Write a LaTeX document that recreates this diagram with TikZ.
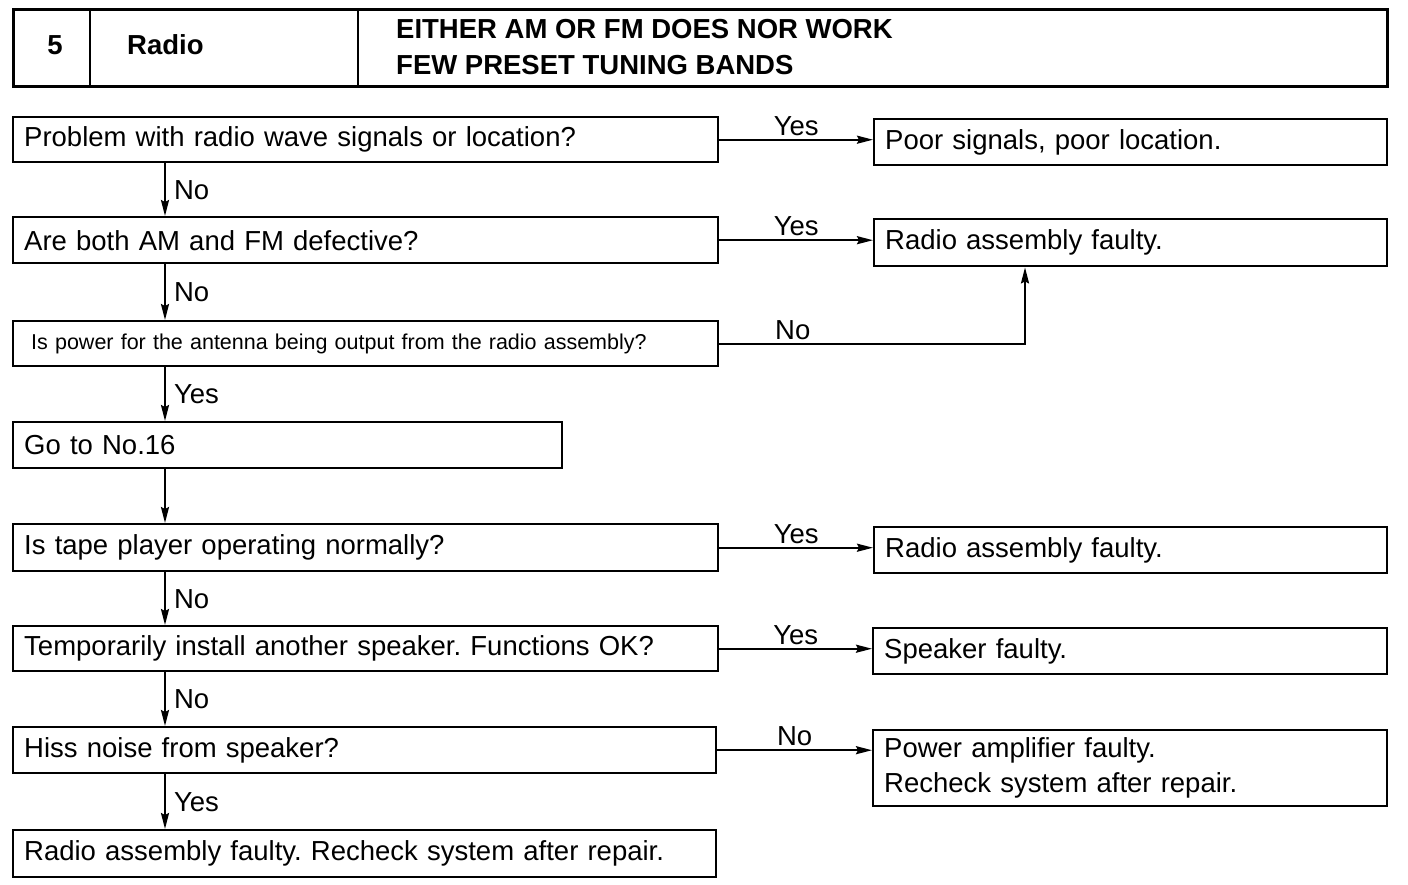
\documentclass[tikz,border=0pt]{standalone}
\usepackage{fontspec}
\setmainfont{Liberation Sans}
\usetikzlibrary{arrows.meta}
\begin{document}
\frenchspacing
\begin{tikzpicture}[x=1pt,y=-1pt,
  box/.style={draw, line width=2.4pt, anchor=north west, inner xsep=11pt, inner ysep=0pt, align=left, font=\fontsize{27.5}{31}\selectfont},
  conn/.style={line width=2pt, -{Stealth[length=16pt,width=8pt,inset=2pt]}},
  lbl/.style={font=\fontsize{27.5}{30}\selectfont, inner sep=2pt},
  vlbl/.style={lbl, right, xshift=6pt},
  hlbl/.style={lbl, above, yshift=1pt},
  hdr/.style={font=\bfseries\fontsize{27.5}{36}\selectfont, inner sep=0pt}]
\useasboundingbox (0,0) rectangle (1408,884);
% header
\node[draw, line width=3pt, anchor=north west, minimum width=1374pt, minimum height=77pt, inner sep=0pt] (hd) at (12,8) {};
\draw[line width=2pt] (90,8) -- (90,85);
\draw[line width=2pt] (358,8) -- (358,85);
\node[hdr] (hn) at (55,45) {5};
\node[hdr, anchor=west] (ht) at (127,45) {Radio};
\node[hdr, anchor=west, align=left] (hx) at (396,47) {EITHER AM OR FM DOES NOR WORK\\FEW PRESET TUNING BANDS};
% left boxes
\node[box, text width=683pt, minimum height=45pt] (b1) at (12,116) {Problem with radio wave signals or location?};
\node[box, text width=683pt, minimum height=46pt] (b2) at (12,216) {Are both AM and FM defective?};
\node[box, text width=683pt, minimum height=45pt, inner xsep=18pt, text width=669pt, font=\fontsize{21.5}{24}\selectfont] (b3) at (12,320) {\raisebox{-3pt}{Is power for the antenna being output from the radio assembly?}};
\node[box, text width=527pt, minimum height=46pt] (b4) at (12,421) {Go to No.16};
\node[box, text width=683pt, minimum height=47pt] (b5) at (12,523) {Is tape player operating normally?};
\node[box, text width=683pt, minimum height=45pt] (b6) at (12,625) {Temporarily install another speaker. Functions OK?};
\node[box, text width=681pt, minimum height=46pt] (b7) at (12,726) {Hiss noise from speaker?};
\node[box, text width=681pt, minimum height=47pt] (b8) at (12,829) {Radio assembly faulty. Recheck system after repair.};
% right boxes
\node[box, text width=491pt, minimum height=46pt] (r1) at (873,118) {Poor signals, poor location.};
\node[box, text width=491pt, minimum height=47pt] (r2) at (873,218) {Radio assembly faulty.};
\node[box, text width=491pt, minimum height=46pt] (r5) at (873,526) {Radio assembly faulty.};
\node[box, text width=492pt, minimum height=46pt] (r6) at (872,627) {Speaker faulty.};
\node[box, text width=492pt, minimum height=76pt, font=\fontsize{27.5}{35}\selectfont] (r7) at (872,729) {Power amplifier faulty.\\Recheck system after repair.};
% vertical connectors
\coordinate (vx) at (165,0);
\draw[conn] (b1.south -| vx) -- node[vlbl] {No} (b2.north -| vx);
\draw[conn] (b2.south -| vx) -- node[vlbl] {No} (b3.north -| vx);
\draw[conn] (b3.south -| vx) -- node[vlbl] {Yes} (b4.north -| vx);
\draw[conn] (b4.south -| vx) -- (b5.north -| vx);
\draw[conn] (b5.south -| vx) -- node[vlbl] {No} (b6.north -| vx);
\draw[conn] (b6.south -| vx) -- node[vlbl] {No} (b7.north -| vx);
\draw[conn] (b7.south -| vx) -- node[vlbl] {Yes} (b8.north -| vx);
% horizontal connectors
\draw[conn] (b1.east) -- node[hlbl] {Yes} (b1.east -| r1.west);
\draw[conn] (b2.east) -- node[hlbl] {Yes} (b2.east -| r2.west);
\coordinate (ux) at (1025,0);
\draw[conn] (b3.east) -- node[hlbl, pos=0.24] {No} (b3.east -| ux) -- (r2.south -| ux);
\draw[conn] (b5.east) -- node[hlbl] {Yes} (b5.east -| r5.west);
\draw[conn] (b6.east) -- node[hlbl] {Yes} (b6.east -| r6.west);
\draw[conn] (b7.east) -- node[hlbl] {No} (b7.east -| r7.west);
\end{tikzpicture}
\end{document}
